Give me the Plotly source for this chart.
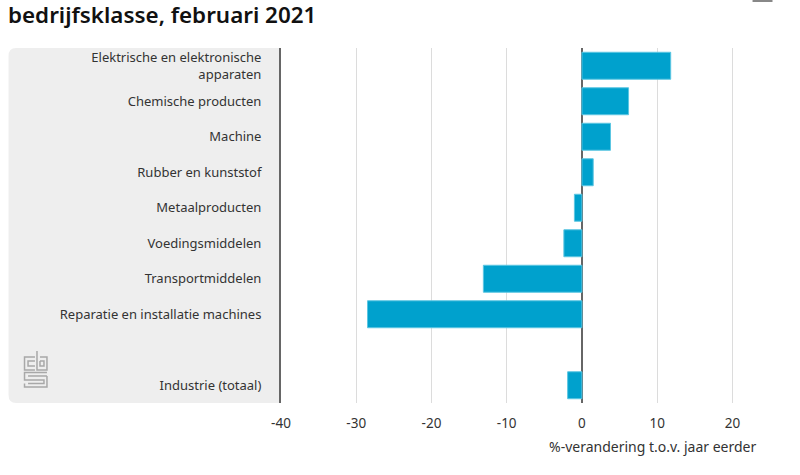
import plotly.graph_objects as go

# waarden
categorieen = [
    "Elektrische en elektronische<br>apparaten",
    "Chemische producten",
    "Machine",
    "Rubber en kunststof",
    "Metaalproducten",
    "Voedingsmiddelen",
    "Transportmiddelen",
    "Reparatie en installatie machines",
    " ",
    "Industrie (totaal)",
]
waarden = [11.8, 6.2, 3.8, 1.5, -1.0, -2.4, -13.1, -28.5, None, -1.9]
x_ticks = [-40, -30, -20, -10, 0, 10, 20]
x_labels = ["-40", "-30", "-20", "-10", "0", "10", "20"]

W, H = 800, 475
L, R, T, B = 280.5, 770.5, 48, 403
FONT = "Noto Sans"
TEKST = "#333333"


# paper-coordinaten lopen over het plotvlak, dus omrekenen vanuit pixels
def px(x):
    return (x - L) / (R - L)


def py(y):
    return 1 - (y - T) / (B - T)


def pad(punten):
    return "M " + " L ".join(f"{px(x):.4f},{py(y):.4f}" for x, y in punten)


fig = go.Figure()

fig.add_trace(go.Bar(
    x=waarden,
    y=categorieen,
    orientation="h",
    marker=dict(color="#00a1cd", line=dict(color="#5cc6e2", width=1)),
    width=0.76,
    hoverinfo="x+y",
))

# grijs vlak achter de labels, links afgerond
paneel = (f"M {px(15)},{py(48)} L {px(280)},{py(48)} L {px(280)},{py(403)} L {px(15)},{py(403)} "
          f"Q {px(7.5)},{py(403)} {px(7.5)},{py(395)} L {px(7.5)},{py(56)} Q {px(7.5)},{py(48)} {px(15)},{py(48)} Z")
vormen = [dict(type="path", path=paneel, xref="paper", yref="paper", layer="below",
               fillcolor="#eeeeee", line=dict(width=0))]

# cbs-logo
logo = [
    [(34, 357), (23.5, 357), (23.5, 370), (34, 370)],
    [(34, 361), (27, 361), (27, 366), (34, 366)],
    [(36, 351), (36, 370), (46, 370), (46, 357), (39, 357)],
    [(39, 361), (43, 361), (43, 366), (39, 366), (39, 361)],
    [(46, 372.5), (23.5, 372.5), (23.5, 380), (43, 380), (43, 383.5), (27, 383.5)],
    [(46, 376), (27, 376)],
    [(46, 376), (46, 387), (23.5, 387), (23.5, 383.5)],
]
for lijn in logo:
    vormen.append(dict(type="path", path=pad(lijn), xref="paper", yref="paper",
                       line=dict(color="#a8a8a8", width=1.5)))

# streepje bovenaan rechts
vormen.append(dict(type="rect", x0=px(753), x1=px(773), y0=py(0), y1=py(2),
                   xref="paper", yref="paper", fillcolor="#888888", line=dict(width=0)))

fig.update_layout(
    width=W,
    height=H,
    margin=dict(l=L, r=W - R, t=T, b=H - B, pad=0),
    paper_bgcolor="white",
    plot_bgcolor="rgba(0,0,0,0)",
    showlegend=False,
    shapes=vormen,
    font=dict(family=FONT, size=13, color=TEKST),
    xaxis=dict(
        range=[-40, 25],
        tickvals=x_ticks,
        ticktext=x_labels,
        showgrid=True,
        gridcolor="#dcdcdc",
        gridwidth=1,
        zeroline=True,
        zerolinecolor="#666666",
        zerolinewidth=2,
        ticks="outside",
        ticklen=8,
        tickcolor="rgba(0,0,0,0)",
        tickfont=dict(size=13.5, color=TEKST),
    ),
    yaxis=dict(
        categoryorder="array",
        categoryarray=categorieen,
        autorange="reversed",
        showline=True,
        linecolor="#666666",
        linewidth=2,
        showgrid=False,
        ticks="outside",
        ticklen=15,
        tickcolor="rgba(0,0,0,0)",
        tickfont=dict(size=13, color=TEKST),
    ),
    annotations=[
        dict(text="bedrijfsklasse, februari 2021", x=px(5), y=py(14.5), xref="paper", yref="paper",
             xanchor="left", yanchor="middle", showarrow=False,
             font=dict(family=FONT, size=22.4, color="#111111", weight=600)),
        dict(text="%-verandering t.o.v. jaar eerder", x=px(653), y=py(446), xref="paper", yref="paper",
             xanchor="center", yanchor="middle", showarrow=False,
             font=dict(family=FONT, size=14, color=TEKST)),
    ],
)

fig.write_html("out.html", config=dict(displayModeBar=False),
               post_script="document.body.style.margin = '0';")
